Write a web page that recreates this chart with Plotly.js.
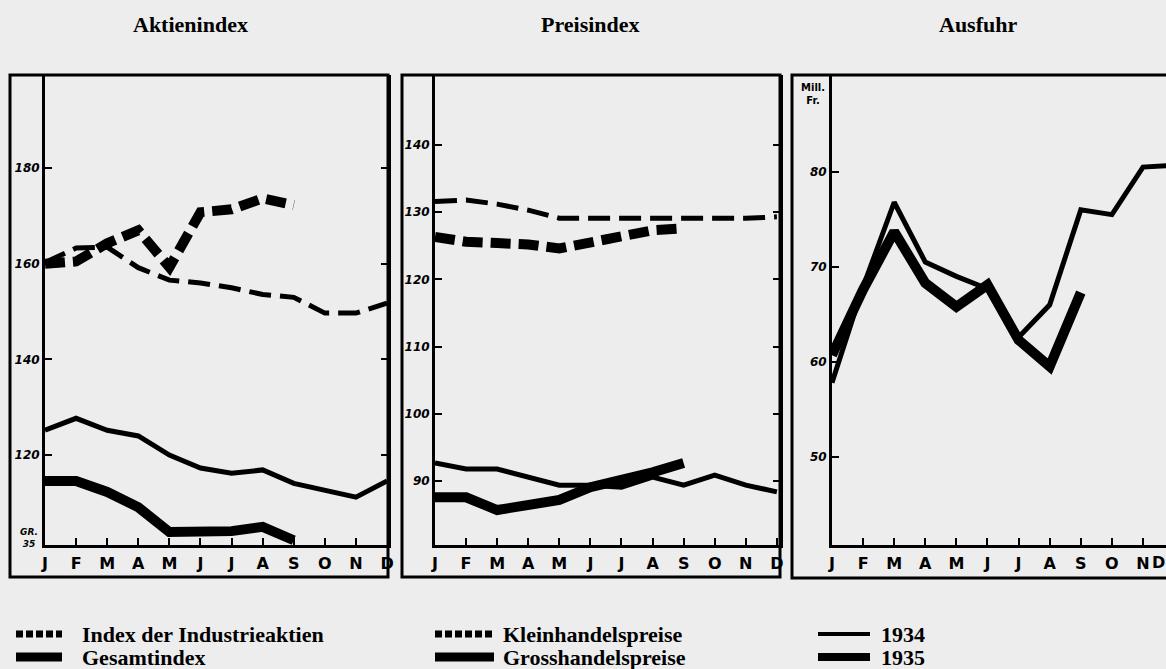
<!DOCTYPE html>
<html>
<head>
<meta charset="utf-8">
<script src="https://cdn.plot.ly/plotly-3.0.1.min.js"></script>
<style>html,body{margin:0;padding:0;background:#ededed;}#chart{width:1166px;height:669px;}</style>
</head>
<body>
<div id="chart"></div>
<script>
// ---- data ----
const months = ["Jan","Feb","Mär","Apr","Mai","Jun","Jul","Aug","Sep","Okt","Nov","Dez"];
const monthLabels = ["J","F","M","A","M","J","J","A","S","O","N","D"];
const months35 = months.slice(0, 9);

// Aktienindex
const industrie1934 = [160.3, 163.3, 163.5, 159.2, 156.6, 156.0, 155.0, 153.6, 153.0, 149.7, 149.7, 151.8];
const industrie1935 = [160.0, 160.5, 164.3, 167.0, 159.3, 170.8, 171.4, 173.7, 172.3];
const gesamt1934 = [125.2, 127.7, 125.2, 124.0, 120.0, 117.3, 116.2, 116.9, 114.1, 112.7, 111.2, 114.6];
const gesamt1935 = [114.6, 114.6, 112.3, 109.1, 103.9, 103.9, 104.1, 105.0, 102.2];

// Preisindex
const klein1934 = [131.6, 131.8, 131.2, 130.3, 129.1, 129.1, 129.1, 129.1, 129.1, 129.1, 129.1, 129.3];
const klein1935 = [126.3, 125.6, 125.4, 125.2, 124.6, 125.4, 126.3, 127.3, 127.6];
const gross1934 = [92.7, 91.8, 91.8, 90.6, 89.4, 89.4, 89.1, 90.6, 89.4, 90.9, 89.4, 88.4];
const gross1935 = [87.6, 87.6, 85.7, 86.4, 87.2, 89.1, 90.1, 91.3, 92.7];

// Ausfuhr (Mill. Fr.)
const ausfuhr1934 = [57.8, 67.9, 76.8, 70.5, 69.0, 67.7, 62.6, 66.0, 76.0, 75.5, 80.5, 80.7];
const ausfuhr1935 = [60.7, 67.6, 73.7, 68.3, 65.8, 68.1, 62.3, 59.5, 67.3];

const ticksAktien = [120, 140, 160, 180];
const ticksPreis = [90, 100, 110, 120, 130, 140];
const ticksAusfuhr = [50, 60, 70, 80];

const legendNames = ["Index der Industrieaktien", "Gesamtindex", "Kleinhandelspreise", "Grosshandelspreise", "1934", "1935"];

// ---- helpers ----
const W = 1166, H = 669;
const px = v => v / W;
const py = v => 1 - v / H;
const K = '#000';

function line(x, y, xa, ya, width, dash) {
  return {x: x, y: y, xaxis: xa, yaxis: ya, mode: 'lines', showlegend: false, hoverinfo: 'skip',
          line: {color: K, width: width, dash: dash || 'solid', shape: 'linear'}};
}

const thinDash = '22px,9px', thickDash = '20px,8px';
const traces = [
  line(months, industrie1934, 'x', 'y', 5, thinDash),
  line(months35, industrie1935, 'x', 'y', 10, thickDash),
  line(months, gesamt1934, 'x', 'y', 5),
  line(months35, gesamt1935, 'x', 'y', 10),
  line(months, klein1934, 'x2', 'y2', 5, thinDash),
  line(months35, klein1935, 'x2', 'y2', 10, thickDash),
  line(months, gross1934, 'x2', 'y2', 5),
  line(months35, gross1935, 'x2', 'y2', 10),
  line(months, ausfuhr1934, 'x3', 'y3', 5),
  line(months35, ausfuhr1935, 'x3', 'y3', 10)
];

const xFont = {family: 'DejaVu Sans', size: 16, color: K, weight: 'bold'};
const yFont = {family: 'DejaVu Sans', size: 12, color: K, weight: 'bold', style: 'italic'};

function xAxis(x0, x1, r1) {
  return {domain: [px(x0), px(x1)], type: 'category', categoryarray: months, categoryorder: 'array',
          range: [0, r1], tickmode: 'array', tickvals: months, ticktext: monthLabels,
          ticks: 'inside', ticklen: 7, tickwidth: 2, tickcolor: K, showline: true, linewidth: 3, linecolor: K,
          showgrid: false, zeroline: false, tickfont: xFont, ticklabelstandoff: 2, fixedrange: true,
          automargin: false};
}
function yAxis(anchor, y0, y1, range, tv, mirror) {
  return {domain: [py(y1), py(y0)], anchor: anchor, range: range, tickmode: 'array', tickvals: tv,
          ticks: 'inside', ticklen: 7, tickwidth: 2, tickcolor: K, showline: true, linewidth: 3, linecolor: K,
          mirror: mirror, showgrid: false, zeroline: false, tickfont: yFont, fixedrange: true,
          automargin: false};
}

const box = (x0, x1, y0, y1) => ({type: 'rect', xref: 'paper', yref: 'paper', x0: px(x0), x1: px(x1),
  y0: py(y1), y1: py(y0), line: {color: K, width: 3}, fillcolor: 'rgba(0,0,0,0)', layer: 'above'});
const key = (x0, x1, y, width, dash) => ({type: 'line', xref: 'paper', yref: 'paper', x0: px(x0), x1: px(x1),
  y0: py(y), y1: py(y), line: {color: K, width: width, dash: dash}});

const serifBold = {family: 'Liberation Serif', size: 22, color: K, weight: 'bold'};
const ann = (text, x, y, font, xanchor) => ({text: text, xref: 'paper', yref: 'paper', x: px(x), y: py(y),
  xanchor: xanchor || 'center', yanchor: 'middle', showarrow: false, font: font});

const layout = {
  width: W, height: H, margin: {l: 0, r: 0, t: 0, b: 0, autoexpand: false},
  paper_bgcolor: '#ededed', plot_bgcolor: 'rgba(0,0,0,0)', showlegend: false, hovermode: false,
  xaxis: xAxis(45, 388, 11.03),
  yaxis: yAxis('x', 75, 545, [101.2, 199.5], ticksAktien, 'ticks'),
  xaxis2: xAxis(435, 780, 11.1),
  yaxis2: yAxis('x2', 75, 545, [80.5, 150.4], ticksPreis, 'ticks'),
  xaxis3: xAxis(832, 1166, 10.74),
  yaxis3: yAxis('x3', 75, 547, [40.5, 90.2], ticksAusfuhr, false),
  shapes: [
    box(10, 388, 75, 577), box(402, 780, 75, 577), box(792, 1175, 75, 578),
    key(16, 62, 634, 7, '7px,3px'), key(16, 62, 657, 9, 'solid'),
    key(435, 494, 634, 7, '7px,3px'), key(435, 494, 657, 9, 'solid'),
    key(818, 870, 634, 4, 'solid'), key(818, 870, 657, 8, 'solid')
  ],
  annotations: [
    ann('Aktienindex', 190, 25, serifBold),
    ann('Preisindex', 590, 25, serifBold),
    ann('Ausfuhr', 978, 25, serifBold),
    ann(legendNames[0], 80, 634, serifBold, 'left'),
    ann(legendNames[1], 80, 657, serifBold, 'left'),
    ann(legendNames[2], 501, 634, serifBold, 'left'),
    ann(legendNames[3], 501, 657, serifBold, 'left'),
    ann(legendNames[4], 879, 634, serifBold, 'left'),
    ann(legendNames[5], 879, 657, serifBold, 'left'),
    ann('GR.<br>35', 29, 538, {family: 'DejaVu Sans', size: 9, color: K, weight: 'bold', style: 'italic'}),
    ann('Mill.<br>Fr.', 813, 94, {family: 'DejaVu Sans', size: 10, color: K, weight: 'bold'}),
    ann('D', 1158, 562, xFont)
  ]
};

Plotly.newPlot('chart', traces, layout, {staticPlot: true, displayModeBar: false});
</script>
</body>
</html>
